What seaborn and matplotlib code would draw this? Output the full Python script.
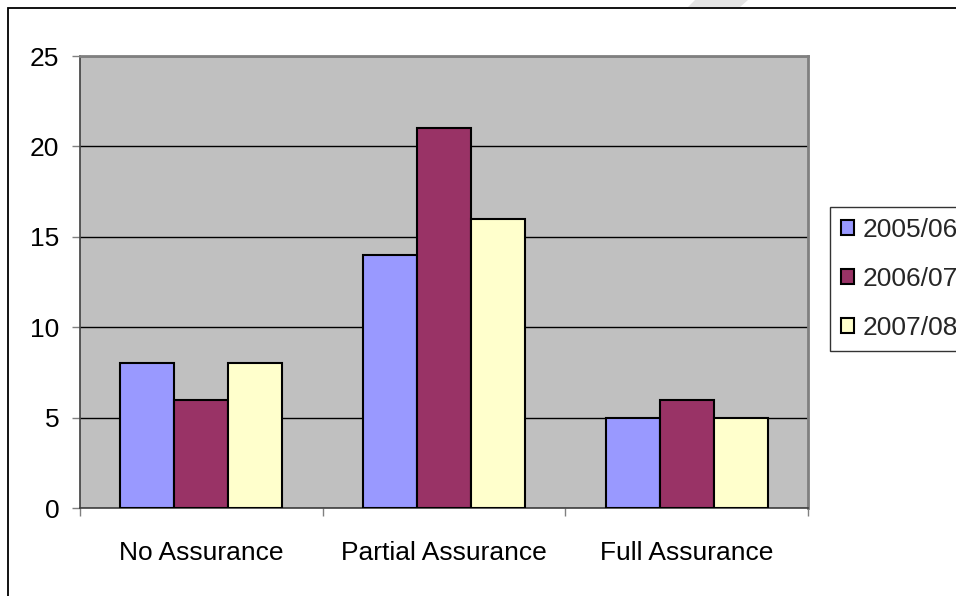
import matplotlib
matplotlib.use("Agg")
import matplotlib.pyplot as plt
from matplotlib.patches import Rectangle, Polygon
import seaborn as sns
import pandas as pd

# Assurance level counts by financial year
categories = ["No Assurance", "Partial Assurance", "Full Assurance"]
years = ["2005/06", "2006/07", "2007/08"]
values_2005_06 = [8, 14, 5]
values_2006_07 = [6, 21, 6]
values_2007_08 = [8, 16, 5]
colors = ["#9999FF", "#993366", "#FFFFCC"]
y_ticks = [0, 5, 10, 15, 20, 25]

rows = []
for year, vals in zip(years, [values_2005_06, values_2006_07, values_2007_08]):
    for cat, v in zip(categories, vals):
        rows.append({"category": cat, "year": year, "count": v})
df = pd.DataFrame(rows)

sns.set_theme(style="white")
plt.rcParams["font.family"] = ["Liberation Sans", "DejaVu Sans"]

FS = 19
fig = plt.figure(figsize=(9.56, 5.96), dpi=100)
fig.patch.set_facecolor("white")

W, H = 956, 596
ax = fig.add_axes([80 / W, 1 - 508 / H, (808 - 80) / W, (508 - 56) / H])
ax.set_facecolor("#C0C0C0")

sns.barplot(data=df, x="category", y="count", hue="year", order=categories,
            hue_order=years, palette=colors, width=0.667, edgecolor="black",
            linewidth=1.5, saturation=1, ax=ax, zorder=3)

ax.set_xlim(-0.5, 2.5)
ax.set_ylim(0, 25)
ax.set_yticks(y_ticks)
ax.set_yticklabels([str(t) for t in y_ticks], fontsize=FS)
ax.yaxis.grid(True, color="black", linewidth=1, zorder=1)
ax.set_axisbelow(True)
ax.set_xlabel("")
ax.set_ylabel("")

# category labels centred, tick marks at group boundaries
ax.set_xticks(range(len(categories)))
ax.set_xticklabels(categories, fontsize=FS)
ax.set_xticks([-0.5, 0.5, 1.5, 2.5], minor=True)
ax.tick_params(axis="x", which="major", length=0, pad=24, labelcolor="black")
ax.tick_params(axis="x", which="minor", length=6, width=1, color="#808080",
               direction="out", bottom=True)
ax.tick_params(axis="y", which="major", length=6, width=1, color="#808080",
               direction="out", left=True, pad=9, labelcolor="black")

for side in ["top", "right"]:
    ax.spines[side].set_color("#808080")
    ax.spines[side].set_linewidth(2)
for side in ["left", "bottom"]:
    ax.spines[side].set_color("#404040")
    ax.spines[side].set_linewidth(1.2)

leg = ax.legend(loc="upper left", bbox_to_anchor=(830 / W, 1 - 207 / H),
                bbox_transform=fig.transFigure, fontsize=FS, frameon=True,
                fancybox=False, shadow=False, edgecolor="black",
                handlelength=0.5, handleheight=0.5, handletextpad=0.3,
                labelspacing=0.95, borderpad=0.42, borderaxespad=0)
leg.get_frame().set_linewidth(1)
for h in leg.legend_handles:
    h.set_edgecolor("black")
    h.set_linewidth(1.5)

# outer chart frame
fig.add_artist(Rectangle((8 / W, -0.1), 1.2, 1 - 8 / H + 0.1, transform=fig.transFigure,
                         fill=False, edgecolor="black", linewidth=1.3))
# faint watermark fragment along the top edge
fig.add_artist(Polygon([(695 / W, 1.0), (748 / W, 1.0), (740 / W, 1 - 7 / H), (688 / W, 1 - 7 / H)],
                       closed=True, transform=fig.transFigure, facecolor="#E4E4E4",
                       edgecolor="none", zorder=0))

fig.savefig("out.png", dpi=100)
